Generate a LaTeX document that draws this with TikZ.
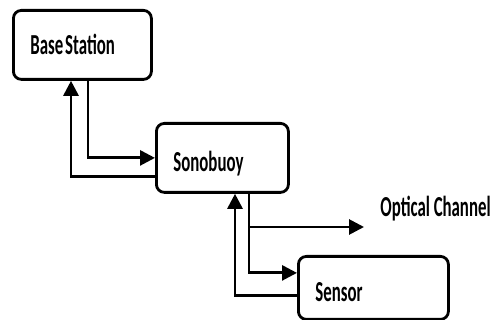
\documentclass[tikz,border=0pt]{standalone}
\usepackage{fontspec}
\setmainfont{Carlito}
\newcommand\lbl[1]{\scalebox{0.58}[1]{\bfseries\fontsize{29}{31}\selectfont #1}}
\usetikzlibrary{arrows.meta}
\begin{document}
\begin{tikzpicture}[x=1pt, y=-1pt, line width=2.8pt,
  block/.style = {draw, rounded corners=8pt, anchor=north west, align=left, inner xsep=17pt,
    text height=28pt, text depth=0pt},
  link/.style = {-{Triangle[length=15pt,width=15pt]}}]
  \useasboundingbox (0,0) rectangle (490,320);
  \node[block, text width=104pt, minimum height=69pt, text height=19pt] (base) at (12,9) {\lbl{Base Station}};
  \node[block, text width=98pt, minimum height=69pt] (sono) at (155,122) {\lbl{Sonobuoy}};
  \node[block, text width=116pt, minimum height=63pt] (sensor) at (297,255) {\lbl{Sensor}};
  \node[anchor=west, inner sep=0pt] (optical) at (379,209) {\lbl{Optical Channel}};
  \coordinate (branch) at (249,227);
  \coordinate (tip) at (364,227);
  \draw[link] ([xshift=76pt]base.south west) |- (sono.west);
  \draw[link] ([yshift=-19pt]sono.west) -| ([xshift=59pt]base.south west);
  \draw[link] ([xshift=94pt]sono.south west) |- ([yshift=15pt]sensor.west);
  \draw[link] ([yshift=-8pt]sensor.west) -| ([xshift=80pt]sono.south west);
  \draw[link] (branch) -- (tip);
\end{tikzpicture}
\end{document}
